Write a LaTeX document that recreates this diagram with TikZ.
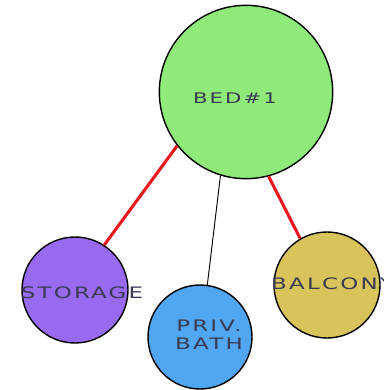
\documentclass[tikz,border=0pt]{standalone}
\usepackage{fontspec}
\newfontfamily\roomfont[FakeStretch=1.45,LetterSpace=14]{DejaVu Sans}
\usepackage{xcolor}
\definecolor{bedcol}{RGB}{144,234,122}
\definecolor{storcol}{RGB}{152,106,240}
\definecolor{bathcol}{RGB}{80,166,240}
\definecolor{balccol}{RGB}{217,196,92}
\definecolor{labcol}{RGB}{58,58,82}
\definecolor{linkred}{RGB}{232,20,30}
\usetikzlibrary{positioning}
\tikzstyle{room} = [
    circle, draw=black,
    line width=1.2pt,
    inner sep=0pt,
]
\tikzstyle{label} = [
    text=labcol,
    inner sep=0pt,
    font=\roomfont\fontsize{13.5}{15}\selectfont,
    align=center,
]
\tikzstyle{red link} = [linkred, line width=2.6pt]
\tikzstyle{plain link} = [black, line width=0.8pt]

\begin{document}
\begin{tikzpicture}[x=0.03cm, y=-0.03cm]
    \useasboundingbox (0,0) rectangle (383,390);

    % rooms
    \node (bed) at (246,92) [room, fill=bedcol, minimum size=5.2cm] {};
    \node (stor) at (75,290) [room, fill=storcol, minimum size=3.18cm] {};
    \node (bath) at (200,337) [room, fill=bathcol, minimum size=3.12cm] {};
    \node (balc) at (327,285) [room, fill=balccol, minimum size=3.18cm] {};

    % links
    \draw [red link] (stor.57) -- (bed.218);
    \draw [plain link] (bath.82) -- (bed.253);
    \draw [red link] (balc.120) -- (bed.285);

    % names
    \node (bedname) at (235,98) [label, font=\roomfont\fontsize{12.5}{14}\selectfont] {BED\#1};
    \node (storname) at (82,293) [label] {STORAGE};
    \node (bathname) at (209,335) [label] {PRIV.\\BATH};
    \node (balcname) at (271,284) [label, anchor=west] {BALCONY};
\end{tikzpicture}
\end{document}
